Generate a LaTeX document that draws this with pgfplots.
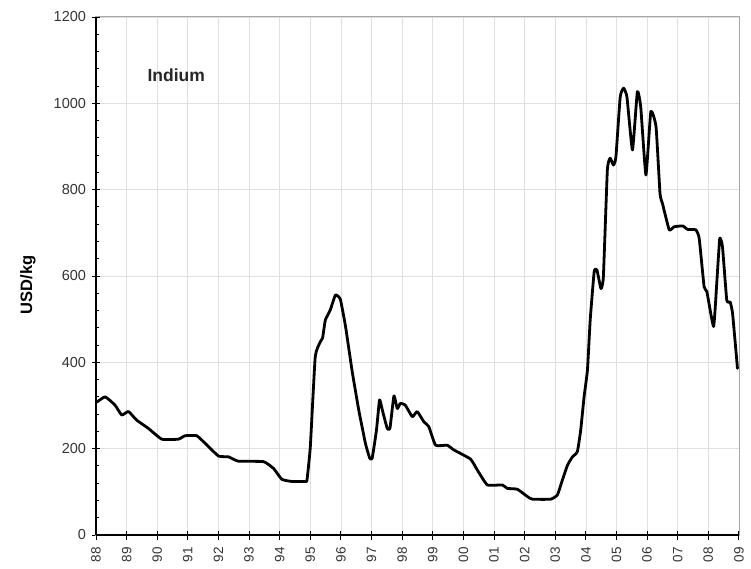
\documentclass[border=0pt]{standalone}
\usepackage{pgfplots}
\pgfplotsset{compat=1.18}
\usepackage{fontspec}
\setmainfont{Liberation Sans}
\begin{document}
\begin{tikzpicture}
\begin{axis}[
  scale only axis,
  width=643pt, height=518pt,
  xmin=1988, xmax=2009,
  ymin=0, ymax=1200,
  xtick={1988,...,2009},
  xticklabels={88,89,90,91,92,93,94,95,96,97,98,99,00,01,02,03,04,05,06,07,08,09},
  ytick={0,200,...,1200},
  minor x tick num=11,
  minor y tick num=4,
  tick pos=left,
  tick align=center,
  major tick length=9pt,
  minor tick length=3pt,
  minor x tick style={yshift=1.5pt},
  minor y tick style={xshift=1.5pt},
  tick style={black, line width=0.9pt},
  xmajorgrids, ymajorgrids,
  grid style={gray!25, line width=0.7pt},
  axis line style={gray!70, line width=1pt},
  /pgf/number format/assume math mode=true,
  /pgf/number format/1000 sep={},
  yticklabel style={font=\fontsize{14.5}{16}\selectfont, text=black!80, xshift=-2pt},
  xticklabel style={font=\fontsize{13.5}{15}\selectfont, text=black!80, rotate=90, anchor=east, xshift=-4pt},
  ylabel={\textbf{USD/kg}},
  every axis y label/.style={at={(axis description cs:-0.106,0.483)},rotate=90,anchor=center,font=\fontsize{16.5}{18}\selectfont},
  clip=false,
]
\draw[black, line width=1.3pt] (rel axis cs:0,0) -- (rel axis cs:0,1);
\draw[black, line width=1.3pt] (rel axis cs:0,0) -- (rel axis cs:1,0);
\addplot[black, line width=2.8pt, line join=round, line cap=round, smooth, tension=0.25] coordinates {
(1988.03,308) (1988.3,320) (1988.62,301) (1988.84,278) (1989.06,286)
(1989.33,266) (1989.71,247) (1990.15,222) (1990.69,222) (1990.91,230)
(1991.29,230) (1991.57,212) (1992.0,183) (1992.33,181) (1992.65,171)
(1993.47,170) (1993.8,154) (1994.07,129) (1994.4,124) (1994.84,124)
(1994.89,127) (1995.0,205) (1995.16,413) (1995.33,448) (1995.4,456)
(1995.49,498) (1995.65,521) (1995.82,556) (1995.98,546) (1996.15,483)
(1996.36,382) (1996.58,290) (1996.8,212) (1996.94,178) (1997.02,178)
(1997.16,243) (1997.26,313) (1997.35,290) (1997.51,247) (1997.6,247)
(1997.73,322) (1997.84,293) (1997.94,305) (1998.1,301) (1998.33,274)
(1998.49,286) (1998.71,262) (1998.87,251) (1999.09,208) (1999.47,208)
(1999.69,197) (2000.23,176) (2000.45,151) (2000.78,116) (2001.27,116)
(2001.43,108) (2001.76,106) (2002.09,89) (2002.25,83) (2002.85,83)
(2003.07,93) (2003.23,127) (2003.4,162) (2003.56,181) (2003.72,193)
(2003.83,243) (2003.94,320) (2004.05,382) (2004.14,498) (2004.27,610)
(2004.36,614) (2004.49,571) (2004.57,598) (2004.7,845) (2004.79,873)
(2004.9,857) (2004.98,876) (2005.12,1015) (2005.23,1035) (2005.34,1015)
(2005.52,892) (2005.68,1027) (2005.79,992) (2005.96,834) (2006.12,981)
(2006.29,946) (2006.42,791) (2006.5,768) (2006.72,707) (2006.88,714)
(2007.16,716) (2007.32,708) (2007.59,707) (2007.7,687) (2007.86,575)
(2007.95,564) (2008.17,483) (2008.28,591) (2008.37,687) (2008.46,668)
(2008.6,544) (2008.71,540) (2008.79,513) (2008.95,386)
};
\node[font=\fontsize{17.5}{19}\selectfont\bfseries, text=black!85] at (axis cs:1990.62,1065) {Indium};
\end{axis}
\pgfresetboundingbox
\path (-96pt,-33pt) rectangle (655pt,535pt);
\end{tikzpicture}
\end{document}
